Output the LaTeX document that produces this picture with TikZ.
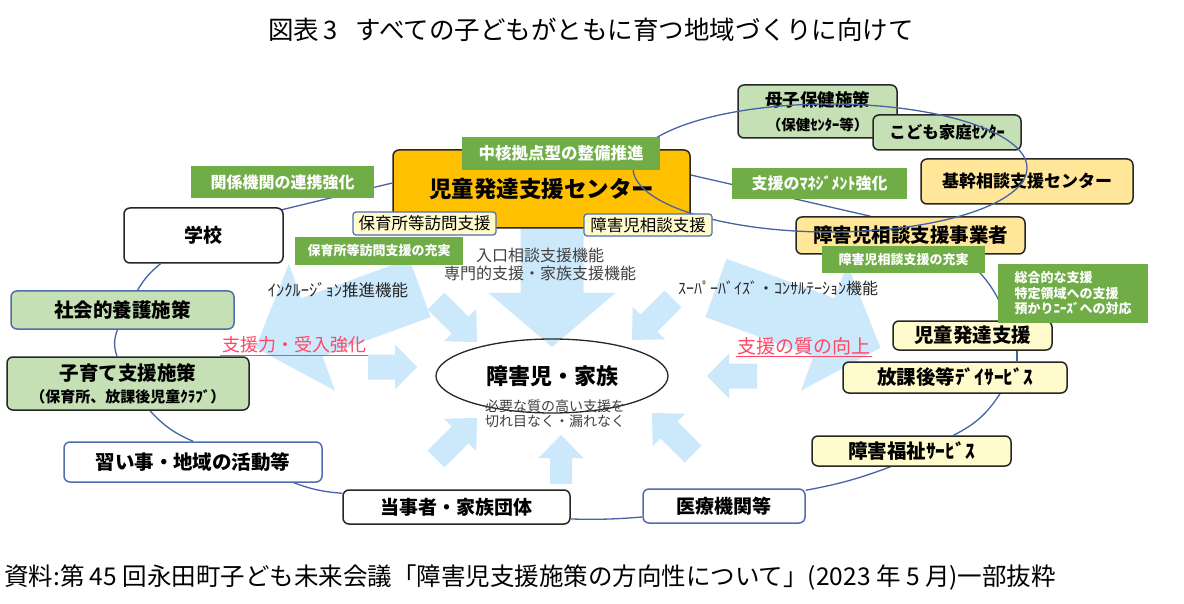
\documentclass[tikz,border=0pt]{standalone}
\usepackage{fontspec}
\setmainfont{Noto Sans CJK JP}
\usetikzlibrary{calc,shapes.geometric}
\definecolor{lineblue}{RGB}{70,100,165}
\definecolor{arrowblue}{RGB}{204,233,252}
\definecolor{lblgreen}{RGB}{112,173,71}
\definecolor{pgreen}{RGB}{197,224,180}
\definecolor{porange}{RGB}{255,230,153}
\definecolor{pyellow}{RGB}{255,251,204}
\definecolor{cenorange}{RGB}{255,192,0}
\definecolor{bdark}{RGB}{38,38,38}
\definecolor{bblue}{RGB}{80,110,175}
\definecolor{txtgray}{RGB}{64,64,64}
\definecolor{redtxt}{RGB}{255,70,100}
\pgfdeclarelayer{bg}
\pgfdeclarelayer{arrows}
\pgfdeclarelayer{lines}
\pgfsetlayers{bg,arrows,lines,main}
\newcommand\fz[1]{\fontsize{#1}{#1}\selectfont}
\newcommand\blkarrow[7]{\fill[arrowblue, shift={(#1,#2)}, rotate=#3] (0,-#5/2) -- (#4-#7,-#5/2) -- (#4-#7,-#6/2) -- (#4,0) -- (#4-#7,#6/2) -- (#4-#7,#5/2) -- (0,#5/2) -- cycle;}
\begin{document}
\begin{tikzpicture}[x=1pt,y=-1pt,
  box/.style={draw=bdark, line width=1.5pt, rounded corners=6pt, inner sep=0pt, align=center},
  bluebox/.style={box, draw=bblue},
  glabel/.style={fill=lblgreen, text=white, inner sep=0pt, align=center},
  ylabel/.style={draw=bblue, fill=pyellow, line width=1.2pt, rounded corners=3pt, inner sep=0pt},
  ring/.style={draw=lineblue, line width=1.3pt},
  note/.style={text=txtgray, inner sep=0pt, align=center},
  redlbl/.style={text=redtxt, inner sep=1.5pt}]
\useasboundingbox (0,0) rectangle (1184,604);
\begin{pgfonlayer}{bg}
\fill[white] (0,0) rectangle (1184,604);
\end{pgfonlayer}

% title and source
\node[font=\fz{25.5}] (title) at (591,30) {図表\,3\hspace{0.7em}すべての子どもがともに育つ地域づくりに向けて};
\node[font=\fz{24.5}, anchor=west, inner sep=0pt] (src) at (4,578) {資料:第 45 回永田町子ども未来会議「障害児支援施策の方向性について」(2023 年 5 月)一部抜粋};

% peripheral boxes
\node[box, fill=pgreen, minimum width=159pt, minimum height=53pt, font=\fontsize{17.5}{24}\selectfont\bfseries] (hoken) at (817.5,111.5) {母子保健施策\\{\fontsize{14.5}{24}\selectfont （保健ｾﾝﾀｰ等）}};
\node[box, fill=pgreen, minimum width=148pt, minimum height=35pt, font=\fz{16.5}\bfseries] (kodomo) at (947,132.5) {こども家庭ｾﾝﾀｰ};
\node[box, fill=porange, minimum width=212pt, minimum height=45pt, font=\fz{17}\bfseries] (kikan) at (1027,181.5) {基幹相談支援センター};
\node[box, fill=porange, minimum width=229pt, minimum height=37pt, font=\fz{19.5}\bfseries] (jigyo) at (910.5,235.5) {障害児相談支援事業者};
\node[box, fill=pyellow, minimum width=159pt, minimum height=29pt, font=\fz{19.5}\bfseries] (jihatsu) at (972.5,335.5) {児童発達支援};
\node[box, fill=pyellow, minimum width=224pt, minimum height=31pt, font=\fz{19.5}\bfseries] (houkago) at (955,377.5) {放課後等ﾃﾞｲｻｰﾋﾞｽ};
\node[box, fill=pyellow, minimum width=199pt, minimum height=30pt, font=\fz{19.5}\bfseries] (fukushi) at (911.5,451) {障害福祉ｻｰﾋﾞｽ};
\node[bluebox, fill=white, minimum width=162pt, minimum height=34pt, font=\fz{19}\bfseries] (iryo) at (724,506) {医療機関等};
\node[box, fill=white, minimum width=227pt, minimum height=34pt, font=\fz{19}\bfseries] (tojisha) at (456.5,507) {当事者・家族団体};
\node[bluebox, fill=white, minimum width=258pt, minimum height=40pt, font=\fz{19.5}\bfseries] (naraigoto) at (193,462) {習い事・地域の活動等};
\node[box, fill=pgreen, minimum width=242pt, minimum height=53pt, font=\fontsize{19.5}{22}\selectfont\bfseries] (kosodate) at (128,383.5) {子育て支援施策\\{\fontsize{15}{22}\selectfont （保育所、放課後児童ｸﾗﾌﾞ）}};
\node[bluebox, fill=pgreen, minimum width=223pt, minimum height=38pt, font=\fz{19.5}\bfseries] (social) at (122.5,310) {社会的養護施策};
\node[box, fill=white, minimum width=159pt, minimum height=55pt, font=\fz{19}\bfseries] (school) at (203.5,235.5) {学校};

% centre box
\node[box, fill=cenorange, minimum width=297pt, minimum height=78pt, font=\fz{22.5}\bfseries] (center) at (541.5,189) {児童発達支援センター};

% loop round the consultation bodies
\draw[ring] (830,168) ellipse [x radius=197pt, y radius=64pt];

% green labels
\node[glabel, minimum width=198pt, minimum height=33pt, font=\fz{16.5}\bfseries] (chukaku) at (561,153.5) {中核拠点型の整備推進};
\node[glabel, minimum width=183pt, minimum height=32pt, font=\fz{16}\bfseries] (kankei) at (282.5,182) {関係機関の連携強化};
\node[glabel, minimum width=175pt, minimum height=31pt, font=\fz{16}\bfseries] (manage) at (819.5,183.5) {支援のﾏﾈｼﾞﾒﾝﾄ強化};
\node[glabel, minimum width=168pt, minimum height=28pt, font=\fz{13}\bfseries] (hoikuj) at (379,251) {保育所等訪問支援の充実};
\node[glabel, minimum width=163pt, minimum height=27pt, font=\fz{13}\bfseries] (soudanj) at (903.5,259.5) {障害児相談支援の充実};
\node[glabel, align=left, minimum width=150pt, minimum height=59pt, font=\fontsize{13}{15.5}\selectfont\bfseries] (sogo) at (1073,293.5) {総合的な支援\\特定領域への支援\\預かりﾆｰｽﾞへの対応};

% yellow labels
\node[ylabel, minimum width=143pt, minimum height=23pt, font=\fz{16.5}] (hoikul) at (424.5,223.5) {保育所等訪問支援};
\node[ylabel, minimum width=128pt, minimum height=22pt, font=\fz{16.5}] (soudanl) at (648,225) {障害児相談支援};

% function texts
\node[note, font=\fontsize{16}{18}\selectfont] (funcs) at (540,264) {入口相談支援機能\\専門的支援・家族支援機能};
\node[note, text=bdark, font=\fz{16.5}] (incl) at (338,290) {ｲﾝｸﾙｰｼﾞｮﾝ推進機能};
\node[note, text=bdark, font=\fz{16}] (superv) at (778,288) {ｽｰﾊﾟｰﾊﾞｲｽﾞ・ｺﾝｻﾙﾃｰｼｮﾝ機能};
\node[redlbl, font=\fz{18}] (shienryoku) at (294,345) {支援力・受入強化};
\draw[redtxt, line width=1pt] (shienryoku.south west) -- (shienryoku.south east);
\node[redlbl, font=\fz{19}] (shitsu) at (804,346) {支援の質の向上};
\draw[redtxt, line width=1pt] (shitsu.south west) -- (shitsu.south east);

% family
\node[draw=bdark, line width=1.3pt, ellipse, minimum width=232pt, minimum height=74pt, inner sep=0pt, font=\fz{22}\bfseries] (fam) at (552,376) {障害児・家族};
\node[note, text=txtgray, font=\fontsize{14}{15.5}\selectfont] (famsub) at (555,413.5) {必要な質の高い支援を\\切れ目なく・漏れなく};

% connectors
\begin{pgfonlayer}{lines}
\draw[ring] ($(school.north east)+(-4,3)$) -- ($(center.west)+(0,-6)$);
\draw[ring] ($(school.south)+(-43,0)$) to[bend right=10] ($(social.north)+(15,0)$);
\draw[ring] ($(social.south)+(-5,0)$) to[bend right=20] ($(kosodate.north)+(-11,0)$);
\draw[ring] ($(kosodate.south)+(22,0)$) to[bend right=12] ($(naraigoto.north)+(0,0)$);
\draw[ring] ($(naraigoto.south east)+(-29,0)$) to[bend right=8] ($(tojisha.north west)+(0,4)$);
\draw[ring] ($(tojisha.east)+(0,12)$) to[bend right=3] ($(iryo.west)+(0,11)$);
\draw[ring] ($(iryo.north east)+(0,2)$) to[bend right=5] ($(fukushi.south)+(-21,0)$);
\draw[ring] ($(fukushi.north)+(42,0)$) to[bend right=15] ($(houkago.south)+(45,0)$);
\draw[ring] ($(houkago.north)+(62,0)$) -- ($(jihatsu.south)+(44.5,0)$);
\draw[ring] ($(jihatsu.north)+(35,0)$) to[bend right=15] ($(jigyo.south)+(50,0)$);
\draw[ring] ($(jigyo.north)+(-40,0)$) -- ($(center.east)+(0,-14)$);
\end{pgfonlayer}

% light blue arrows
\begin{pgfonlayer}{arrows}
\blkarrow{552}{228}{-90}{119}{63}{127}{54}
\blkarrow{420}{288}{200}{175}{62}{135}{60}
\blkarrow{716}{288}{-20}{175}{62}{135}{60}
\blkarrow{368}{367}{0}{49}{25}{45}{22}
\blkarrow{757}{376}{180}{50}{25}{45}{22}
\blkarrow{561}{484}{90}{49}{22}{45}{23}
\blkarrow{436}{301}{-45}{58}{24}{46}{24}
\blkarrow{436}{459}{45}{58}{24}{46}{24}
\blkarrow{673}{299}{-135}{58}{24}{46}{24}
\blkarrow{693}{454}{135}{58}{24}{46}{24}
\end{pgfonlayer}
\end{tikzpicture}
\end{document}
